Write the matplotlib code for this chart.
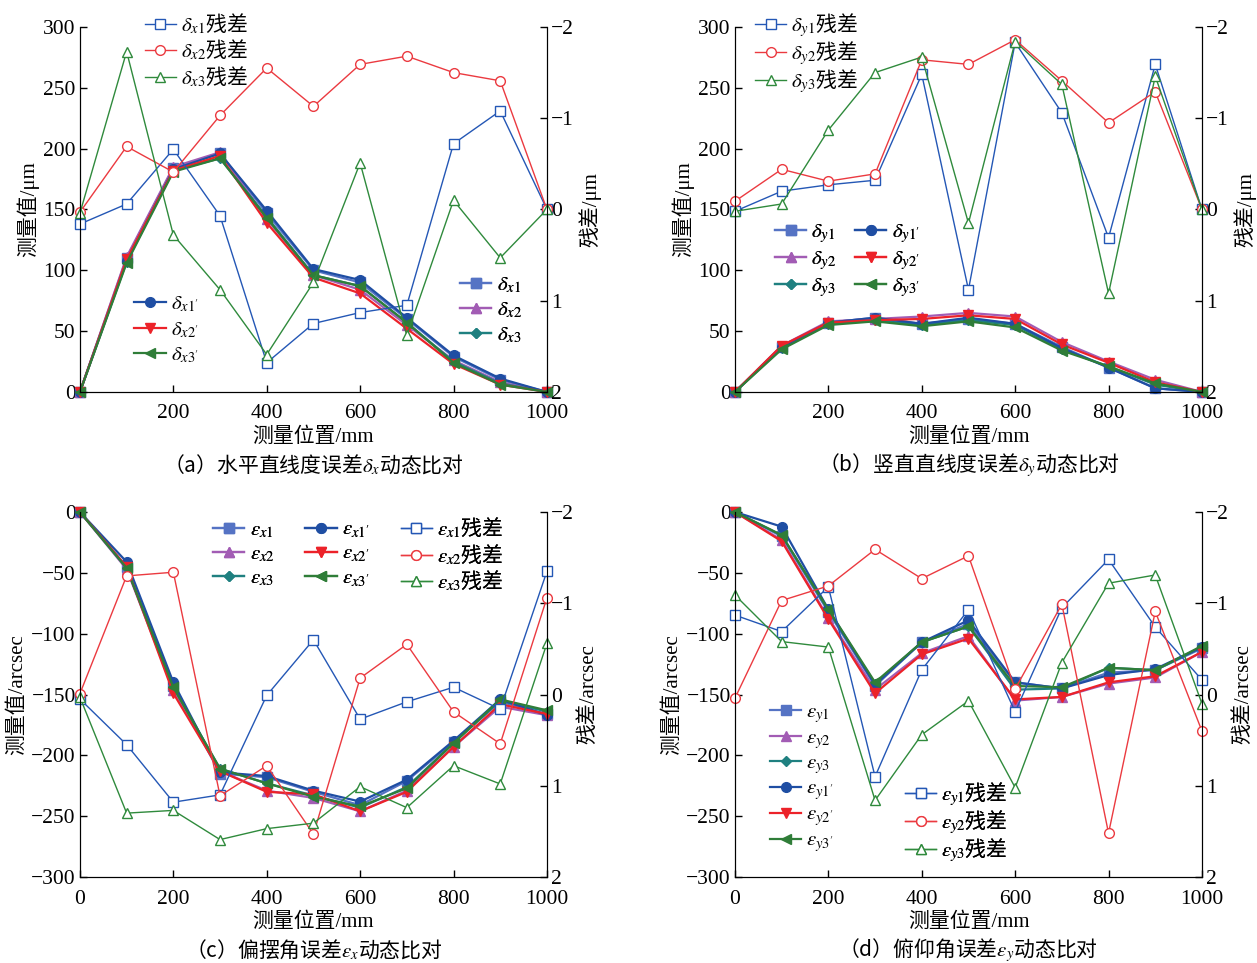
import matplotlib
matplotlib.use("Agg")
import matplotlib.pyplot as plt

plt.rcParams['font.family'] = ['Liberation Serif', 'Noto Sans CJK SC']
plt.rcParams['mathtext.fontset'] = 'stix'
plt.rcParams['font.size'] = 15
plt.rcParams['xtick.direction'] = 'in'
plt.rcParams['ytick.direction'] = 'in'

CJK = 'Noto Sans CJK SC'

pos = [0, 100, 200, 300, 400, 500, 600, 700, 800, 900, 1000]

# (a) horizontal straightness, um
dx1 = [0, 110, 184, 196, 147, 100, 90, 60, 29, 10, 0]
dx2 = [0, 111, 185, 197, 142, 96, 84, 55, 26, 8, 0]
dx3 = [0, 107, 182, 192, 144, 96, 87, 57, 25, 7, 0]
dx1p = [0, 108, 183, 196, 149, 101, 92, 61, 30, 11, 0]
dx2p = [0, 109, 182, 194, 139, 94, 81, 52, 23, 6, 0]
dx3p = [0, 106, 181, 192, 143, 96, 87, 57, 24, 6, 0]
rx1 = [0.16, -0.06, -0.66, 0.07, 1.68, 1.25, 1.13, 1.05, -0.72, -1.08, 0]
rx2 = [0.03, -0.69, -0.41, -1.03, -1.55, -1.13, -1.59, -1.68, -1.50, -1.41, 0]
rx3 = [0.04, -1.73, 0.28, 0.88, 1.59, 0.80, -0.51, 1.38, -0.10, 0.53, 0]

# (b) vertical straightness, um
dy1 = [0, 37, 57, 61, 56, 60, 56, 37, 20, 3, 0]
dy2 = [0, 38, 58, 60, 62, 65, 62, 41, 25, 10, 0]
dy3 = [0, 36, 56, 59, 55, 59, 55, 35, 21, 6, 0]
dy1p = [0, 37, 57, 61, 56, 61, 56, 36, 20, 3, 0]
dy2p = [0, 38, 57, 59, 60, 63, 60, 39, 24, 8, 0]
dy3p = [0, 35, 55, 58, 54, 58, 53, 34, 21, 7, 0]
ry1 = [0.02, -0.20, -0.27, -0.32, -1.48, 0.88, -1.83, -1.06, 0.31, -1.59, 0]
ry2 = [-0.09, -0.44, -0.31, -0.39, -1.64, -1.59, -1.86, -1.41, -0.95, -1.29, 0]
ry3 = [0.02, -0.06, -0.87, -1.50, -1.67, 0.15, -1.84, -1.37, 0.92, -1.46, 0]

# (c) yaw, arcsec
ex1 = [0, -45, -143, -215, -218, -230, -241, -221, -189, -156, -166]
ex2 = [0, -47, -146, -213, -229, -235, -246, -229, -193, -160, -167]
ex3 = [0, -46, -144, -211, -223, -233, -243, -226, -190, -155, -164]
ex1p = [0, -41, -140, -214, -217, -229, -238, -220, -188, -154, -167]
ex2p = [0, -45, -149, -213, -230, -232, -246, -230, -193, -158, -166]
ex3p = [0, -46, -144, -211, -223, -234, -242, -227, -190, -154, -163]
rex1 = [0.05, 0.55, 1.18, 1.10, 0.01, -0.60, 0.27, 0.08, -0.08, 0.16, -1.35]
rex2 = [-0.01, -1.30, -1.34, 1.11, 0.78, 1.53, -0.18, -0.55, 0.19, 0.54, -1.06]
rex3 = [0.03, 1.30, 1.27, 1.59, 1.47, 1.41, 1.01, 1.24, 0.78, 0.98, -0.56]

# (d) pitch, arcsec
ey1 = [0, -20, -82, -143, -107, -92, -140, -145, -132, -130, -112]
ey2 = [0, -23, -87, -146, -116, -102, -155, -152, -141, -136, -115]
ey3 = [0, -19, -81, -141, -107, -94, -146, -145, -128, -130, -111]
ey1p = [0, -12, -80, -142, -107, -89, -140, -145, -134, -129, -111]
ey2p = [0, -24, -88, -149, -117, -104, -154, -152, -140, -135, -115]
ey3p = [0, -19, -80, -140, -107, -94, -143, -144, -128, -130, -110]
rey1 = [-0.87, -0.69, -1.18, 0.90, -0.27, -0.93, 0.19, -0.95, -1.48, -0.74, -0.16]
rey2 = [0.04, -1.03, -1.19, -1.59, -1.27, -1.52, -0.06, -0.99, 1.52, -0.91, 0.40]
rey3 = [-1.09, -0.58, -0.52, 1.16, 0.44, 0.07, 1.02, -0.35, -1.22, -1.31, 0.10]

MEAS_STYLE = [('#5573c4', 's'), ('#a25cb4', '^'), ('#1f8080', 'D'),
              ('#1f4ea3', 'o'), ('#ec2229', 'v'), ('#2f7d38', '<')]
RES_STYLE = [('#2457b5', 's'), ('#eb3a40', 'o'), ('#2f8a3c', '^')]

fig = plt.figure(figsize=(12.57, 9.63), dpi=100)


def draw_panel(rect, meas, mlabels, res, rlabels, ylim, yticks, xticks,
               ylabel, rlabel, caption):
    ax = fig.add_axes(rect)
    ax2 = ax.twinx()
    mh = []
    for vals, lab, (c, m) in zip(meas, mlabels, MEAS_STYLE):
        ms = 5.5 if m == 'D' else 7
        h, = ax.plot(pos, vals, color=c, marker=m, ms=ms, lw=1.6, label=lab,
                     clip_on=False)
        mh.append(h)
    rh = []
    for vals, lab, (c, m) in zip(res, rlabels, RES_STYLE):
        h, = ax2.plot(pos, vals, color=c, marker=m, ms=7, lw=1.0,
                      mfc='white', mew=1.0, label=lab, clip_on=False)
        rh.append(h)
    ax.set_xlim(0, 1000)
    ax.set_ylim(*ylim)
    ax.set_yticks(yticks)
    ax.set_xticks(xticks)
    ax2.set_ylim(2, -2)
    ax2.set_yticks([-2, -1, 0, 1, 2])
    for a in (ax, ax2):
        a.spines['top'].set_visible(False)
        a.tick_params(length=5, width=1, labelsize=15.5)
    ax.tick_params(axis='x', pad=9)
    ax.tick_params(axis='y', pad=3)
    ax2.tick_params(axis='y', pad=3)
    ax.set_xlabel('测量位置/mm', fontsize=15, labelpad=3)
    ax.set_ylabel(ylabel, fontsize=15, labelpad=3)
    ax2.set_ylabel(rlabel, fontsize=15, labelpad=3, rotation=90)
    ax.text(0.5, -0.2, caption, transform=ax.transAxes, ha='center',
            va='center', fontsize=15, family=CJK)
    return ax2, mh, rh


def leg(ax, handles, x, y, ncol=1, colsp=1.0, lsp=0.15):
    ax.legend(handles=handles, loc='upper left', bbox_to_anchor=(x, y),
              bbox_transform=fig.transFigure, frameon=False, ncol=ncol,
              prop={'family': CJK, 'size': 15}, handlelength=1.5,
              handletextpad=0.25, labelspacing=lsp, borderpad=0,
              borderaxespad=0, columnspacing=colsp)
    ax.add_artist(ax.get_legend())


W = 0.3715
H = 0.379

a2, mh, rh = draw_panel(
    [0.0636, 0.593, W, H],
    [dx1, dx2, dx3, dx1p, dx2p, dx3p],
    [r'$\delta_{x1}$', r'$\delta_{x2}$', r'$\delta_{x3}$',
     r"$\delta_{x1'}$", r"$\delta_{x2'}$", r"$\delta_{x3'}$"],
    [rx1, rx2, rx3], [r'$\delta_{x1}$残差', r'$\delta_{x2}$残差', r'$\delta_{x3}$残差'],
    (0, 300), range(0, 301, 50), range(200, 1001, 200),
    '测量值/μm', '残差/μm', '（a）水平直线度误差$\\delta_x$动态比对')
leg(a2, rh, 0.115, 0.988, lsp=0.1)
leg(a2, mh[3:], 0.107, 0.696)
leg(a2, mh[:3], 0.366, 0.716)

b2, mh, rh = draw_panel(
    [0.5847, 0.593, W, H],
    [dy1, dy2, dy3, dy1p, dy2p, dy3p],
    [r'$\delta_{y1}$', r'$\delta_{y2}$', r'$\delta_{y3}$',
     r"$\delta_{y1'}$", r"$\delta_{y2'}$", r"$\delta_{y3'}$"],
    [ry1, ry2, ry3], [r'$\delta_{y1}$残差', r'$\delta_{y2}$残差', r'$\delta_{y3}$残差'],
    (0, 300), range(0, 301, 50), range(200, 1001, 200),
    '测量值/μm', '残差/μm', '（b）竖直直线度误差$\\delta_y$动态比对')
leg(b2, rh, 0.6006, 0.988, lsp=0.0)
leg(b2, mh, 0.6165, 0.771, ncol=2, colsp=0.9, lsp=0.1)

c2, mh, rh = draw_panel(
    [0.0636, 0.0893, W, H],
    [ex1, ex2, ex3, ex1p, ex2p, ex3p],
    [r'$\varepsilon_{x1}$', r'$\varepsilon_{x2}$', r'$\varepsilon_{x3}$',
     r"$\varepsilon_{x1'}$", r"$\varepsilon_{x2'}$", r"$\varepsilon_{x3'}$"],
    [rex1, rex2, rex3],
    [r'$\varepsilon_{x1}$残差', r'$\varepsilon_{x2}$残差', r'$\varepsilon_{x3}$残差'],
    (-300, 0), range(-300, 1, 50), range(0, 1001, 200),
    '测量值/arcsec', '残差/arcsec', '（c）偏摆角误差$\\varepsilon_x$动态比对')
leg(c2, mh + rh, 0.1695, 0.464, ncol=3, colsp=1.5, lsp=0.1)

d2, mh, rh = draw_panel(
    [0.5847, 0.0893, W, H],
    [ey1, ey2, ey3, ey1p, ey2p, ey3p],
    [r'$\varepsilon_{y1}$', r'$\varepsilon_{y2}$', r'$\varepsilon_{y3}$',
     r"$\varepsilon_{y1'}$", r"$\varepsilon_{y2'}$", r"$\varepsilon_{y3'}$"],
    [rey1, rey2, rey3],
    [r'$\varepsilon_{y1}$残差', r'$\varepsilon_{y2}$残差', r'$\varepsilon_{y3}$残差'],
    (-300, 0), range(-300, 1, 50), range(0, 1001, 200),
    '测量值/arcsec', '残差/arcsec', '（d）俯仰角误差$\\varepsilon_y$动态比对')
leg(d2, mh, 0.6126, 0.273, lsp=0.05)
leg(d2, rh, 0.72, 0.190, lsp=0.0)

fig.savefig('out.png', dpi=100)
